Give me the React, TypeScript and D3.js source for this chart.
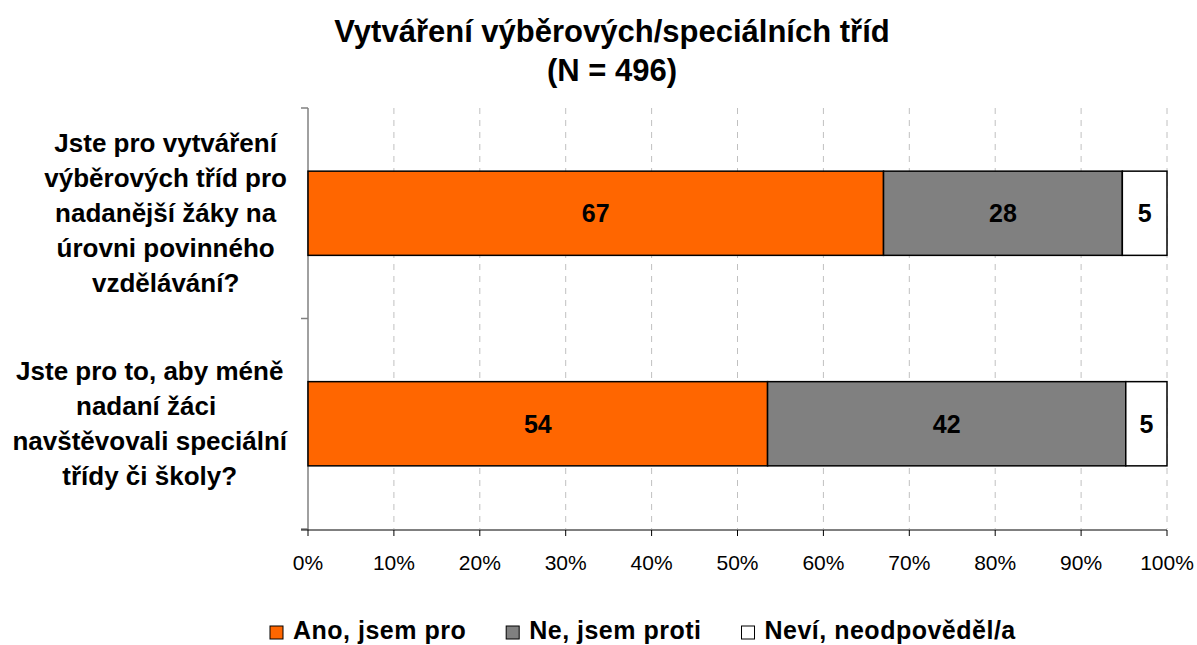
import React, { useMemo } from 'react';
import * as d3 from 'd3';

const categories = [
  ['Jste pro vytváření', 'výběrových tříd pro', 'nadanější žáky na', 'úrovni povinného', 'vzdělávání?'],
  ['Jste pro to, aby méně', 'nadaní žáci ', 'navštěvovali speciální', 'třídy či školy?'],
];
const seriesNames = ['Ano, jsem pro', 'Ne, jsem proti', 'Neví, neodpověděl/a'];
const yes = [67.0, 53.5];
const no = [27.8, 41.7];
const dontKnow = [5.2, 4.8];
const xTicks = [0, 10, 20, 30, 40, 50, 60, 70, 80, 90, 100];
const colors = ['#FF6600', '#808080', '#FFFFFF'];

const FONT = '"Liberation Sans", Arial, sans-serif';

function measure(text: string, font: string) {
  const c = document.createElement('canvas').getContext('2d')!;
  c.font = font;
  return c.measureText(text).width;
}

export default function App() {
  const W = 1197;
  const H = 645;
  const x = d3.scaleLinear().domain([0, 100]).range([308, 1167]);
  const y = d3.scaleBand<number>()
    .domain(d3.range(categories.length))
    .range([108, 529])
    .paddingInner(0.6)
    .paddingOuter(0.3);

  const rows = categories.map((_, i) => [yes[i], no[i], dontKnow[i]]);
  const stacked = rows.map(r => {
    let acc = 0;
    return r.map(v => {
      const s = acc;
      acc += v;
      return [s, acc];
    });
  });

  const labelFont = `bold 26px ${FONT}`;
  const legendFont = `bold 25px ${FONT}`;
  const legendSpacing = 0.5;
  const labelWidths = useMemo(
    () => categories.map(lines => Math.max(...lines.map(l => measure(l, labelFont)))),
    []
  );
  const legendWidths = useMemo(
    () => seriesNames.map(n => measure(n, legendFont) + n.length * legendSpacing),
    []
  );

  const labelRight = 287;
  const lineH = 35;
  const step = y.step();
  const boundaries = d3.range(categories.length + 1).map(i => 108 + i * step);

  // legenda: čtvereček, mezera, text, mezera
  let lx = 270;
  const legendItems = seriesNames.map((n, i) => {
    const item = { name: n, x: lx, color: colors[i] };
    lx += 14 + 9 + legendWidths[i] + 40;
    return item;
  });

  return (
    <div style={{ position: 'absolute', left: 0, top: 0 }}>
      <svg width={W} height={H} style={{ display: 'block', fontFamily: FONT }}>
        <rect width={W} height={H} fill="#fff" />
        <text x={612} y={42} textAnchor="middle" fontSize={31} fontWeight="bold">
          Vytváření výběrových/speciálních tříd
        </text>
        <text x={612} y={81} textAnchor="middle" fontSize={31} fontWeight="bold">
          (N = 496)
        </text>

        {/* mřížka */}
        {xTicks.slice(1).map(t => (
          <line key={t} x1={x(t)} x2={x(t)} y1={108} y2={529}
            stroke="#c0c0c0" strokeWidth={1} strokeDasharray="6,6" />
        ))}

        {/* osa y */}
        <line x1={308} x2={308} y1={108} y2={530} stroke="#808080" strokeWidth={1.5} />
        {boundaries.map((b, i) => (
          <line key={i} x1={301} x2={308} y1={b} y2={b} stroke="#808080" strokeWidth={1.5} />
        ))}

        {/* osa x */}
        <line x1={301} x2={1167} y1={530} y2={530} stroke="#000" strokeWidth={1} />
        {xTicks.map(t => (
          <g key={t}>
            <line x1={x(t)} x2={x(t)} y1={530} y2={536} stroke="#000" strokeWidth={1} />
            <text x={x(t)} y={570} textAnchor="middle" fontSize={21}>{t}%</text>
          </g>
        ))}

        {/* sloupce */}
        {stacked.map((segs, i) => (
          <g key={i}>
            {segs.map(([s, e], j) => (
              <g key={j}>
                <rect x={x(s)} y={y(i)} width={x(e) - x(s)} height={y.bandwidth()}
                  fill={colors[j]} stroke="#000" strokeWidth={1.5} />
                <text x={(x(s) + x(e)) / 2} y={y(i)! + y.bandwidth() / 2 + 9}
                  textAnchor="middle" fontSize={25} fontWeight="bold">
                  {Math.round(rows[i][j])}
                </text>
              </g>
            ))}
          </g>
        ))}

        {/* popisky kategorií */}
        {categories.map((lines, i) => {
          const cx = labelRight - labelWidths[i] / 2;
          const cy = y(i)! + y.bandwidth() / 2;
          const top = cy - ((lines.length - 1) * lineH) / 2;
          return (
            <g key={i}>
              {lines.map((l, k) => (
                <text key={k} x={cx} y={top + k * lineH + 9} textAnchor="middle"
                  fontSize={26} fontWeight="bold" style={{ whiteSpace: 'pre' }}>{l}</text>
              ))}
            </g>
          );
        })}

        {/* legenda */}
        {legendItems.map(it => (
          <g key={it.name}>
            <rect x={it.x} y={626} width={13} height={13} fill={it.color} stroke="#000" strokeWidth={1} />
            <text x={it.x + 23} y={639} fontSize={25} fontWeight="bold"
              letterSpacing={legendSpacing}>{it.name}</text>
          </g>
        ))}
      </svg>
    </div>
  );
}
